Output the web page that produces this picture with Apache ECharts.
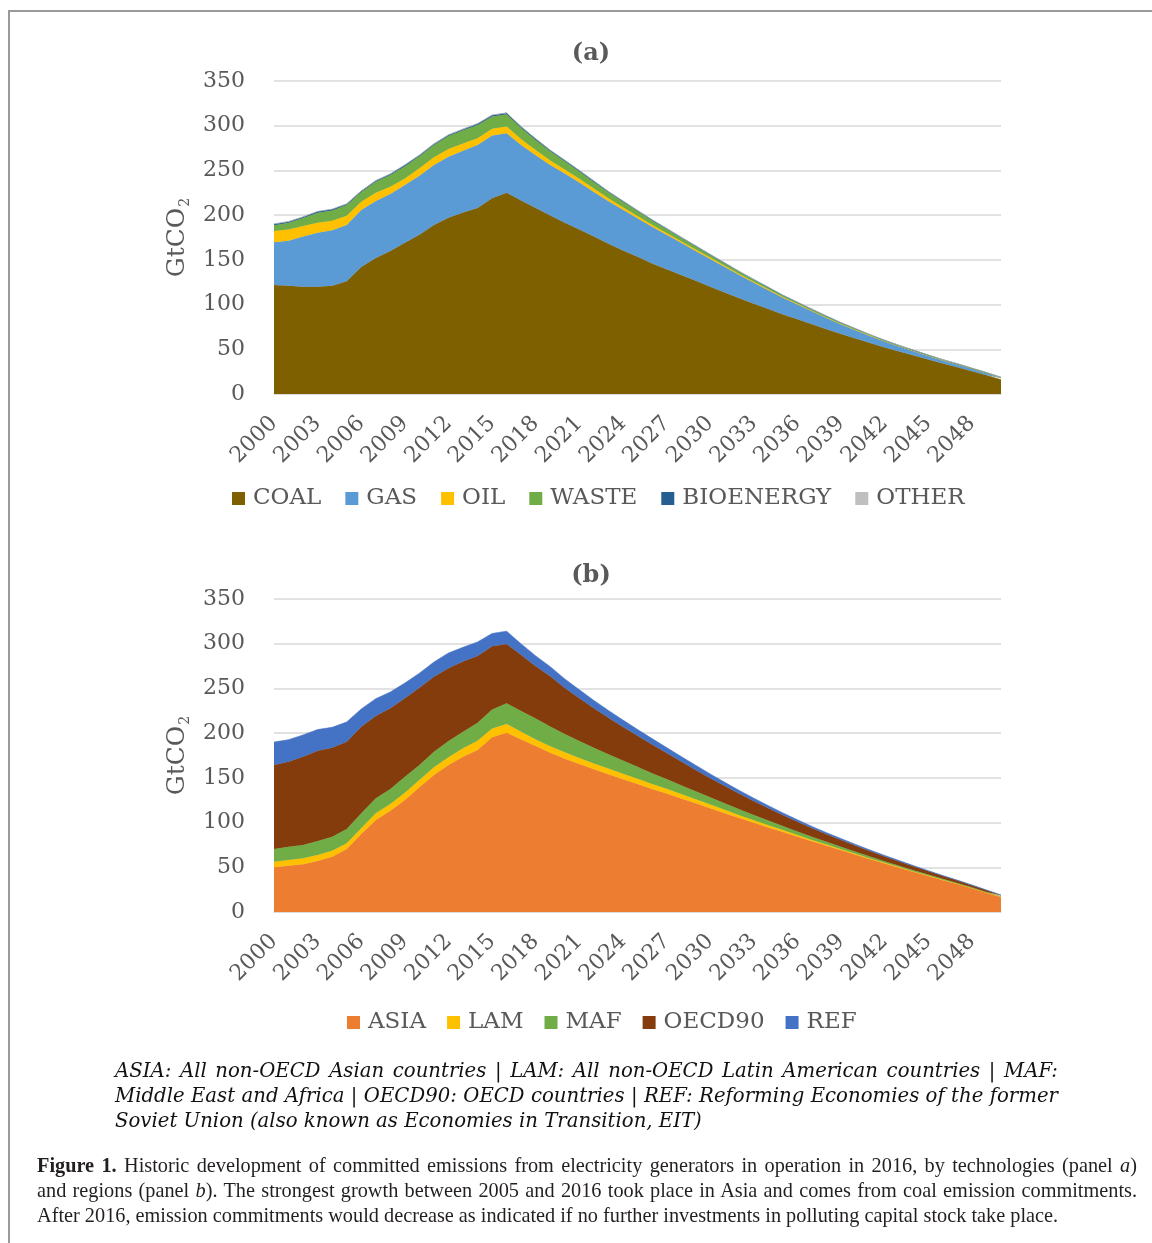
<!DOCTYPE html>
<html><head><meta charset="utf-8">
<script src="https://cdn.jsdelivr.net/npm/echarts@6/dist/echarts.min.js"></script>
<style>
html,body{margin:0;padding:0;background:#fff;overflow:hidden;width:1152px;height:1243px;}
#frame{position:absolute;left:8px;top:10px;width:1300px;height:1400px;border-left:2px solid #9a9a9a;border-top:2px solid #9a9a9a;}
#chart{position:absolute;left:0;top:0;width:1152px;height:1243px;}
.note{position:absolute;left:115px;width:943px;font-family:'DejaVu Serif';font-style:italic;font-size:19.7px;line-height:25px;color:#111;white-space:nowrap;}
.cap{position:absolute;left:37px;width:1100px;font-family:'Liberation Serif';font-size:20.3px;line-height:25px;color:#231f20;white-space:nowrap;}
.just{text-align:justify;text-align-last:justify;}
</style></head>
<body>
<div id="frame"></div>
<div id="chart"></div>
<div class="note just" style="top:1058px">ASIA: All non-OECD Asian countries | LAM: All non-OECD Latin American countries | MAF:</div>
<div class="note just" style="top:1083px">Middle East and Africa | OECD90: OECD countries | REF: Reforming Economies of the former</div>
<div class="note" style="top:1108px">Soviet Union (also known as Economies in Transition, EIT)</div>
<div class="cap just" style="top:1153px"><b>Figure 1.</b> Historic development of committed emissions from electricity generators in operation in 2016, by technologies (panel <i>a</i>)</div>
<div class="cap just" style="top:1178px">and regions (panel <i>b</i>). The strongest growth between 2005 and 2016 took place in Asia and comes from coal emission commitments.</div>
<div class="cap" style="top:1203px">After 2016, emission commitments would decrease as indicated if no further investments in polluting capital stock take place.</div>
<script>
const years = ['2000','2001','2002','2003','2004','2005','2006','2007','2008','2009','2010','2011','2012','2013','2014','2015','2016','2017','2018','2019','2020','2021','2022','2023','2024','2025','2026','2027','2028','2029','2030','2031','2032','2033','2034','2035','2036','2037','2038','2039','2040','2041','2042','2043','2044','2045','2046','2047','2048','2049','2050'];
const yTicks = [0,50,100,150,200,250,300,350];

// Panel (a): technologies
const coal = [122,121,120,120,121,126,142,152,160,169,178,189,197,203,208,219,225,216.5,208,199.5,
  191.5,184,176,168,160.5,153.5,146,139.5,133,126.5,120,113.5,107,101,95,89,83.5,78,72.5,67,62,57,52,47.5,43,38.5,34,30,25.5,21,16];
const gas = [47.6,50.5,56,60.4,62,63,63.7,63.8,63.6,64.7,66,67,68.4,69,70.4,70,66.5,62,59,56.5,
  55,52.5,50,47.5,45.5,43,41,38.5,36,33.5,31,28.5,26,23.5,21,18.5,16.5,14.5,12.5,10.8,9.2,7.8,6.6,5.6,4.8,4.1,3.5,3,2.6,2.3,2];
const oil = [12.7,12.5,11.8,11.2,10.8,10.4,9.3,9.2,8.2,7.3,8.4,8.7,8.6,8,7.6,7.7,7.5,6.5,5.8,5.2,
  4.6,4.1,3.7,3.3,2.9,2.6,2.3,2.1,1.9,1.7,1.5,1.35,1.2,1.1,1.0,0.9,0.8,0.7,0.65,0.6,0.55,0.5,0.45,0.4,0.35,0.3,0.3,0.25,0.25,0.2,0.2];
const waste = [6.5,7.5,9,11.2,11.5,11.9,10.8,12.3,13,13.8,13.4,13.6,14.4,14.8,14.8,13.7,13.8,12.5,11.3,10.2,
  9.2,8.3,7.5,6.7,6,5.4,4.8,4.3,3.8,3.4,3.0,2.7,2.4,2.1,1.9,1.7,1.5,1.35,1.2,1.05,0.95,0.85,0.75,0.65,0.6,0.5,0.45,0.4,0.35,0.3,0.3];
const bioenergy = [1.2,1.2,1.2,1.2,1.2,1.2,1.2,1.2,1.2,1.2,1.2,1.3,1.3,1.3,1.4,1.4,1.4,1.3,1.2,1.1,
  1.0,0.95,0.9,0.85,0.8,0.75,0.7,0.65,0.6,0.55,0.5,0.47,0.44,0.41,0.38,0.35,0.32,0.3,0.28,0.26,0.24,0.22,0.2,0.18,0.16,0.15,0.14,0.13,0.12,0.11,0.1];
const other = [0.2,0.2,0.2,0.2,0.2,0.2,0.2,0.2,0.2,0.2,0.2,0.2,0.2,0.2,0.2,0.2,0.2,0.2,0.2,0.2,
  0.15,0.15,0.15,0.15,0.15,0.15,0.15,0.15,0.15,0.15,0.1,0.1,0.1,0.1,0.1,0.1,0.1,0.1,0.1,0.1,0.08,0.08,0.08,0.08,0.08,0.06,0.06,0.06,0.06,0.05,0.05];

// Panel (b): regions
const asia = [50,51.8,53.3,57,61.8,70.4,87.2,102.9,113.3,125.2,139.4,153.2,164.4,173.7,181.1,195.3,200.5,193,185.5,178,
  171.5,165.5,159.5,154,148.5,143,137.5,132.5,127,121.5,116,110.5,105,99.8,94.6,89.4,84.2,79,74,69,64,59,54.2,49.5,44.8,40.2,35.6,31.2,26.5,21.5,16.5];
const lam = [6.3,6.3,6.7,6.7,6.8,6.4,6.4,7.5,7.5,8.2,8.2,8.6,8.6,9.3,10.5,10,9.7,8.5,7.5,7.3,
  7.0,6.8,6.6,6.4,6.2,6.0,5.7,5.3,4.9,4.5,4.1,3.7,3.3,2.9,2.5,2.2,1.9,1.65,1.45,1.25,1.1,0.95,0.8,0.7,0.6,0.5,0.45,0.4,0.35,0.3,0.25];
const maf = [14.1,14.9,15,15.7,15.6,16,16.8,16.7,16.7,17.9,16.8,17.4,18.2,18.6,20.1,21.2,23.1,23.4,23.4,22.2,
  20.5,19,17.5,16,14.6,13.3,12,10.9,9.9,9,8.1,7.3,6.5,5.8,5.1,4.5,4,3.5,3.1,2.7,2.4,2.1,1.8,1.6,1.4,1.2,1.0,0.9,0.8,0.7,0.6];
const oecd90 = [94,95,98.7,101,99.5,97.6,96.8,92.1,90.2,87.7,86.4,83.8,81.3,78.4,74.6,70.8,66.4,62.4,58.5,56,
  51.5,47.8,44.2,40.8,37.7,34.8,32,29,26.4,23.9,21.5,19.3,17.3,15.4,13.7,12.1,10.7,9.5,8.4,7.5,6.7,6,5.4,4.8,4.2,3.6,3.1,2.6,2.1,1.7,1.3];
const ref = [25.6,24.7,24.3,23.6,22.8,22.1,19.8,19.3,18.3,17,16.2,16.5,17.1,16,15.7,14.2,14.3,12.5,11.5,10.8,
  10.1,9.4,8.8,8.2,7.6,7.1,6.7,6.2,5.7,5.2,4.7,4.2,3.8,3.4,3.0,2.6,2.3,2.0,1.8,1.6,1.4,1.2,1.05,0.9,0.8,0.7,0.6,0.5,0.45,0.4,0.35];

const techNames = ['COAL','GAS','OIL','WASTE','BIOENERGY','OTHER'];
const techData = [coal, gas, oil, waste, bioenergy, other];
const techColors = ['#7f6000','#5b9bd5','#ffc000','#70ad47','#255e91','#bfbfbf'];
const regNames = ['ASIA','LAM','MAF','OECD90','REF'];
const regData = [asia, lam, maf, oecd90, ref];
const regColors = ['#ed7d31','#ffc000','#70ad47','#843c0c','#4472c4'];

const SERIF = 'DejaVu Serif';
const GREY = '#595959';

function xAxis(gi){
  return {type:'category', gridIndex:gi, data:years, boundaryGap:false,
    axisLine:{lineStyle:{color:'#d9d9d9', width:1.5}}, axisTick:{show:false},
    axisLabel:{interval:2, rotate:45, fontFamily:SERIF, fontSize:22, color:GREY, margin:26}};
}
function yAxis(gi){
  return {type:'value', gridIndex:gi, min:yTicks[0], max:yTicks[yTicks.length-1], interval:50,
    axisLine:{show:false}, axisTick:{show:false},
    splitLine:{lineStyle:{color:'#d9d9d9', width:1.5}},
    axisLabel:{fontFamily:SERIF, fontSize:22, color:GREY, margin:29},
    name:'{a|GtCO}{b|2}', nameLocation:'middle', nameRotate:90, nameGap:74,
    nameTextStyle:{rich:{
      a:{fontFamily:SERIF, fontSize:25, color:GREY, lineHeight:30},
      b:{fontFamily:SERIF, fontSize:14, color:GREY, lineHeight:30, verticalAlign:'bottom', padding:[0,0,0,1]}
    }}};
}
function mkSeries(names, data, colors, idx, stack){
  return names.map((n,i)=>({
    name:n, type:'line', stack:stack, xAxisIndex:idx, yAxisIndex:idx, data:data[i],
    symbol:'none', smooth:false, lineStyle:{width:0.6, color:colors[i]},
    areaStyle:{color:colors[i], opacity:1}, itemStyle:{color:colors[i]}, z:2+i
  }));
}
const legendText = {fontFamily:SERIF, fontSize:23, color:GREY, padding:[0,0,0,3]};

const chart = echarts.init(document.getElementById('chart'), null, {renderer:'canvas'});
chart.setOption({
  backgroundColor:'transparent',
  animation:false,
  grid:[
    {left:274, top:81, width:727, height:313},
    {left:274, top:599, width:727, height:313}
  ],
  xAxis:[xAxis(0), xAxis(1)],
  yAxis:[yAxis(0), yAxis(1)],
  legend:[
    {data:techNames, left:232, top:487, padding:0, itemWidth:13, itemHeight:13, itemGap:24, icon:'rect', textStyle:legendText},
    {data:regNames, left:347, top:1011, padding:0, itemWidth:13, itemHeight:13, itemGap:21, icon:'rect', textStyle:legendText}
  ],
  graphic:[
    {type:'text', x:591, y:54, style:{text:'(a)', align:'center', verticalAlign:'middle', font:'bold 24px "DejaVu Serif"', fill:GREY}},
    {type:'text', x:591, y:576, style:{text:'(b)', align:'center', verticalAlign:'middle', font:'bold 24px "DejaVu Serif"', fill:GREY}}
  ],
  series:[].concat(mkSeries(techNames, techData, techColors, 0, 'tech'), mkSeries(regNames, regData, regColors, 1, 'reg'))
});
</script>
</body></html>
